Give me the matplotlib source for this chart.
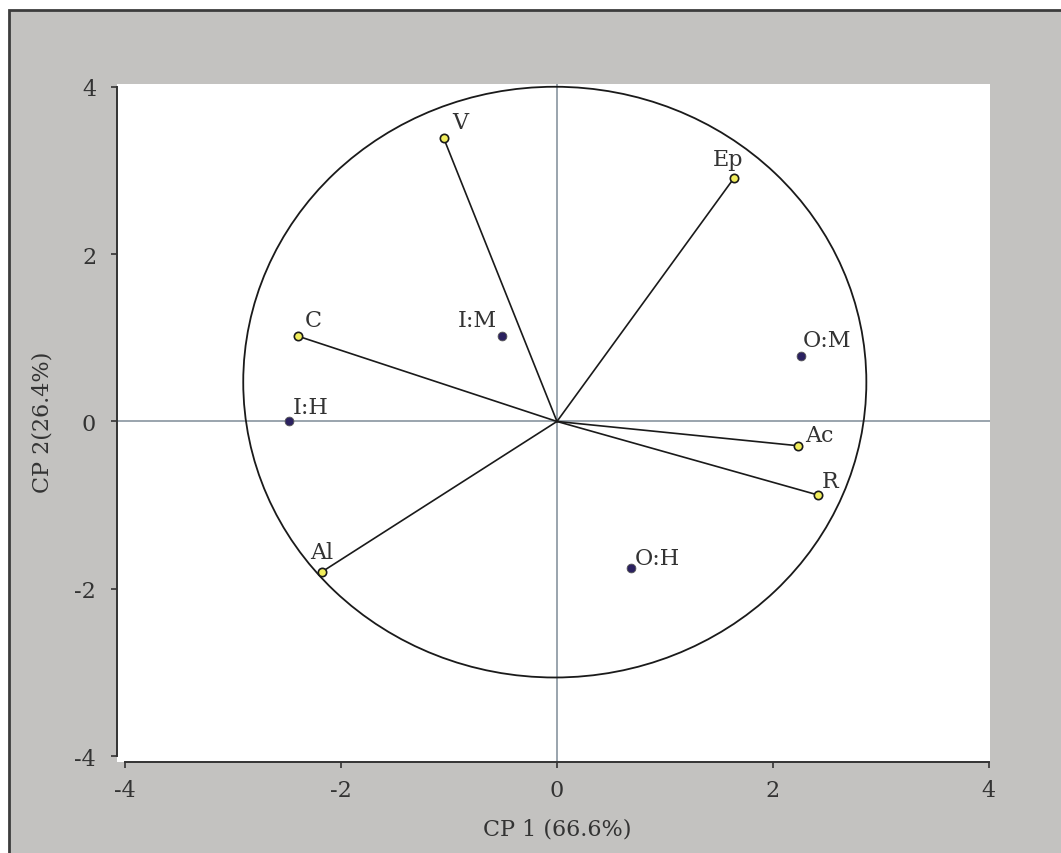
import matplotlib
matplotlib.use('Agg')
import matplotlib.pyplot as plt
from matplotlib.patches import Ellipse, Rectangle

plt.rcParams['font.family'] = ['DejaVu Serif']

TXT = '#333333'
PANEL = '#C3C2C0'
AXIS0 = '#7F8B97'

# variables (vectors from the origin)
var_names = ['V', 'Ep', 'C', 'Ac', 'R', 'Al']
var_x = [-1.05, 1.64, -2.40, 2.23, 2.42, -2.18]
var_y = [3.39, 2.91, 1.02, -0.29, -0.88, -1.80]

# treatments (scores)
obs_names = ['I:M', 'O:M', 'I:H', 'O:H']
obs_x = [-0.51, 2.26, -2.48, 0.69]
obs_y = [1.02, 0.78, 0.01, -1.75]

# label offsets in pixels (dx, dy, ha)
var_off = [(9, 10, 'left'), (-21, 13, 'left'), (7, 10, 'left'),
           (7, 5, 'left'), (3, 8, 'left'), (-11, 14, 'left')]
obs_off = [(-5, 10, 'right'), (2, 10, 'left'), (4, 8, 'left'), (3, 4, 'left')]

fig = plt.figure(figsize=(10.61, 8.54), dpi=100)
fig.patch.set_facecolor('white')
fig.patches.append(Rectangle((9 / 1061, -0.02), 1.05, (854 - 11) / 854 + 0.02,
                             transform=fig.transFigure, facecolor=PANEL,
                             edgecolor='#3C3C3C', linewidth=2, zorder=-10))

ax = fig.add_axes([117 / 1061, 91 / 854, 873 / 1061, 678 / 854])
ax.set_facecolor('white')
ax.set_xlim(-4.074, 4.01)
ax.set_ylim(-4.07, 4.033)

ax.axhline(0, color=AXIS0, lw=1.1, zorder=1)
ax.axvline(0, color=AXIS0, lw=1.1, zorder=1)

# correlation circle
ax.add_patch(Ellipse((-0.02, 0.47), 5.77, 7.06, fill=False,
                     edgecolor='#1A1A1A', lw=1.3, zorder=2))

for x, y in zip(var_x, var_y):
    ax.plot([0, x], [0, y], color='#1A1A1A', lw=1.2, zorder=3)
ax.scatter(var_x, var_y, s=36, color='#F2EE5C', edgecolors='#1A1A1A',
           linewidths=1.2, zorder=5)
ax.scatter(obs_x, obs_y, s=40, color='#2B2160', edgecolors='#555555',
           linewidths=0.6, zorder=5)

for n, x, y, (dx, dy, ha) in zip(var_names, var_x, var_y, var_off):
    ax.annotate(n, (x, y), xytext=(dx, dy), textcoords='offset pixels',
                ha=ha, va='baseline', fontsize=16, color=TXT, zorder=6)
for n, x, y, (dx, dy, ha) in zip(obs_names, obs_x, obs_y, obs_off):
    ax.annotate(n, (x, y), xytext=(dx, dy), textcoords='offset pixels',
                ha=ha, va='baseline', fontsize=16, color=TXT, zorder=6)

for s in ['top', 'right']:
    ax.spines[s].set_visible(False)
for s in ['left', 'bottom']:
    ax.spines[s].set_color('#333333')
    ax.spines[s].set_linewidth(1.4)
    ax.spines[s].set_bounds(-4, 4)

ax.set_xticks([-4, -2, 0, 2, 4])
ax.set_yticks([-4, -2, 0, 2, 4])
ax.set_xticklabels(['-4', '-2', '0', '2', '4'])
ax.set_yticklabels(['-4', '-2', '0', '2', '4'])
ax.tick_params(axis='both', direction='out', length=4, width=1.2,
               colors='#333333', labelsize=16, labelcolor=TXT)
ax.tick_params(axis='x', pad=8)
ax.tick_params(axis='y', pad=11)

fig.text(557 / 1061, 1 - 830 / 854, 'CP 1 (66.6%)', ha='center', va='center',
         fontsize=16, color=TXT)
fig.text(42 / 1061, 1 - 422 / 854, 'CP 2(26.4%)', ha='center', va='center',
         rotation=90, fontsize=16, color=TXT)

fig.savefig('out.png', dpi=100, facecolor='white')
